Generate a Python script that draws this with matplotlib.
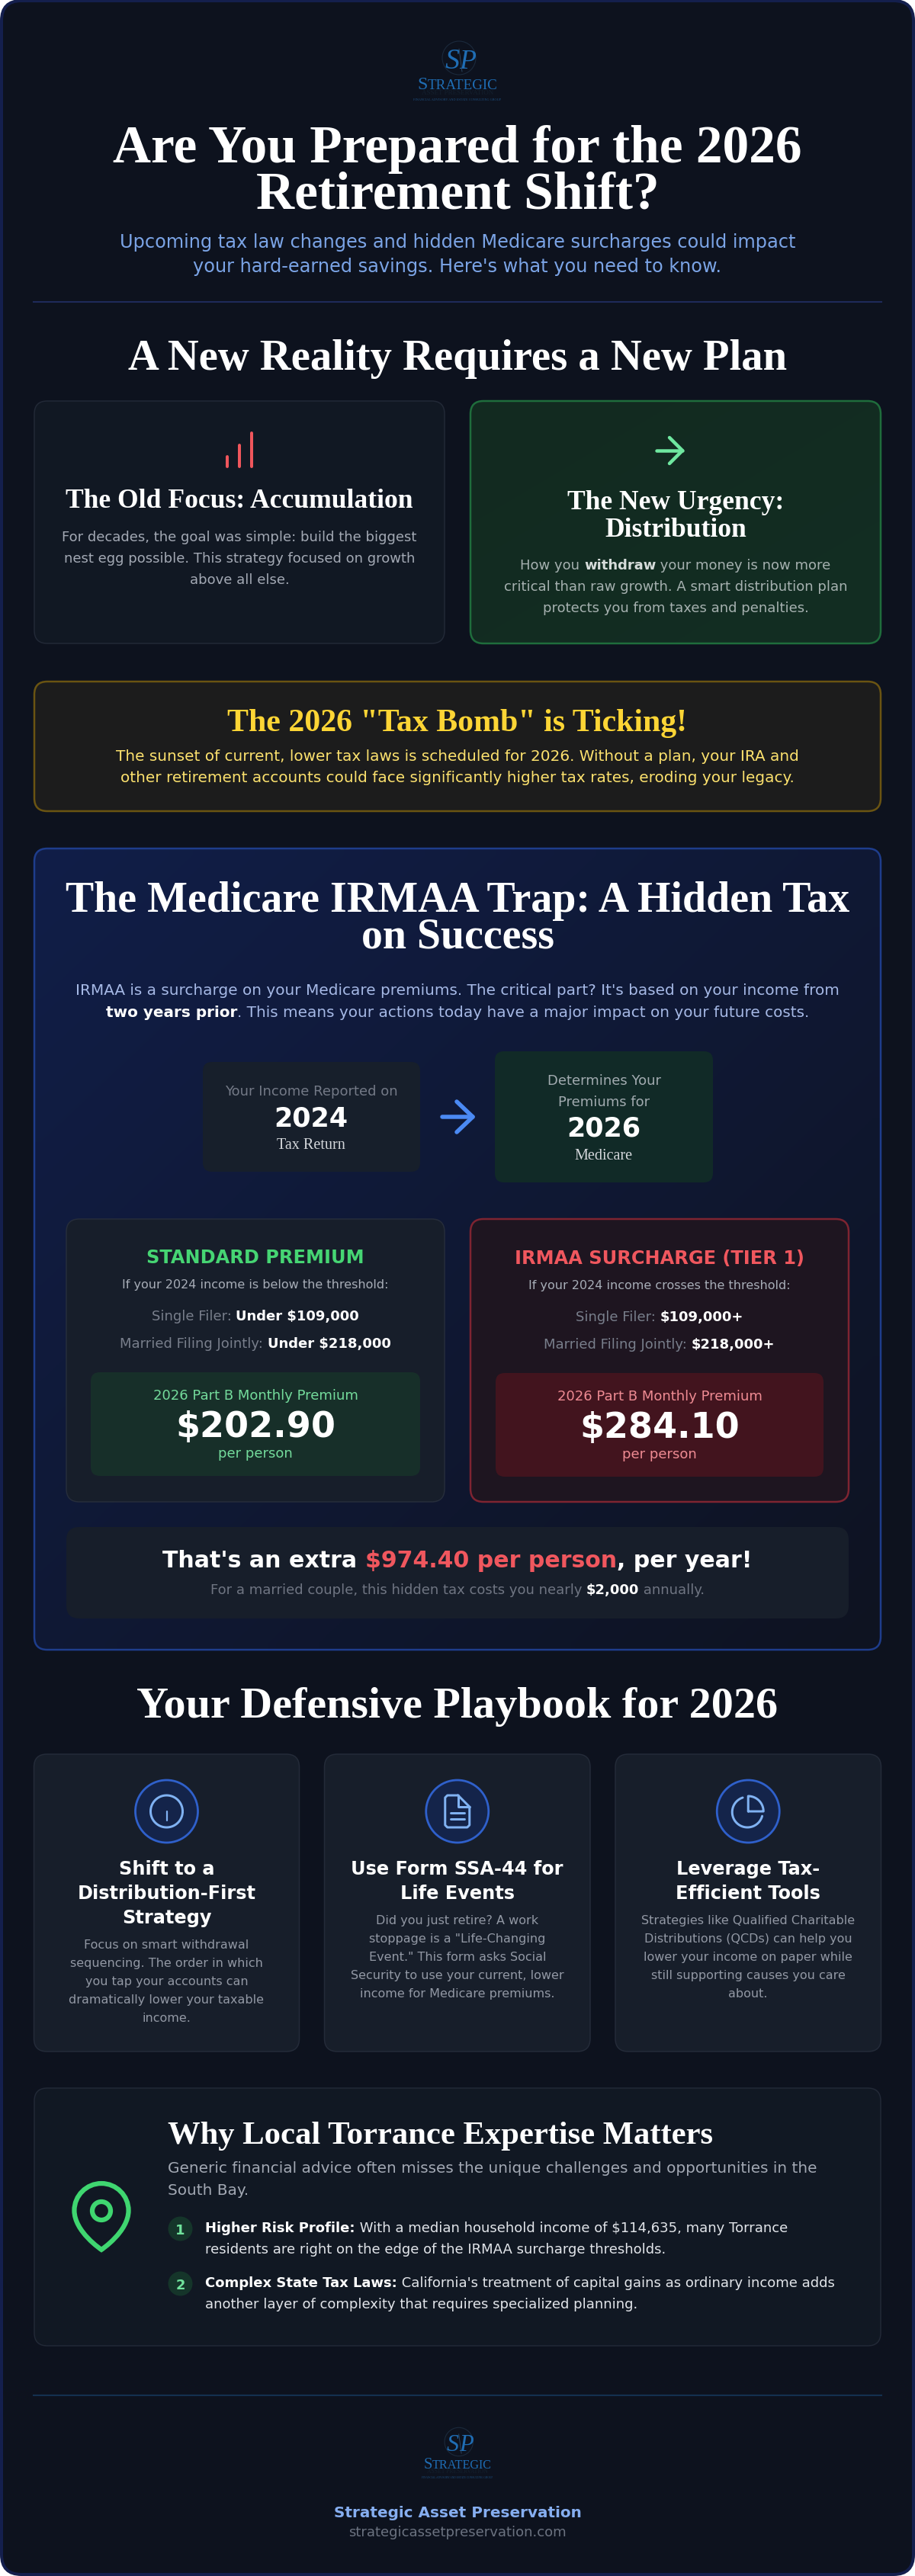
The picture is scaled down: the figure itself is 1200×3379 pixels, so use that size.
import matplotlib
matplotlib.use('Agg')
import matplotlib.pyplot as plt
from matplotlib.patches import FancyBboxPatch, Circle, PathPatch
from matplotlib.path import Path
import numpy as np

SANS = 'DejaVu Sans'
SERIF = 'Liberation Serif'

# texts
title_lines = ['Are You Prepared for the 2026', 'Retirement Shift?']
subtitle_lines = ['Upcoming tax law changes and hidden Medicare surcharges could impact',
                  "your hard-earned savings. Here's what you need to know."]
section_reality = 'A New Reality Requires a New Plan'
old_title = 'The Old Focus: Accumulation'
old_body = ['For decades, the goal was simple: build the biggest',
            'nest egg possible. This strategy focused on growth',
            'above all else.']
new_title = ['The New Urgency:', 'Distribution']
new_body_rest = ['critical than raw growth. A smart distribution plan',
                 'protects you from taxes and penalties.']
bomb_title = 'The 2026 "Tax Bomb" is Ticking!'
bomb_body = ['The sunset of current, lower tax laws is scheduled for 2026. Without a plan, your IRA and',
             'other retirement accounts could face significantly higher tax rates, eroding your legacy.']
irmaa_title = ['The Medicare IRMAA Trap: A Hidden Tax', 'on Success']
irmaa_line1 = "IRMAA is a surcharge on your Medicare premiums. The critical part? It's based on your income from"
irmaa_line2 = '. This means your actions today have a major impact on your future costs.'
flow_left = ['Your Income Reported on', '2024', 'Tax Return']
flow_right = ['Determines Your', 'Premiums for', '2026', 'Medicare']
tier_heads = ['STANDARD PREMIUM', 'IRMAA SURCHARGE (TIER 1)']
tier_subs = ['If your 2024 income is below the threshold:', 'If your 2024 income crosses the threshold:']
single_limits = ['Under $109,000', '$109,000+']
joint_limits = ['Under $218,000', '$218,000+']
premium_label = '2026 Part B Monthly Premium'
premiums = ['$202.90', '$284.10']
per_person = 'per person'
extra_amount = '$974.40 per person'
couple_amount = '$2,000'
section_play = 'Your Defensive Playbook for 2026'
play_titles = [['Shift to a', 'Distribution-First', 'Strategy'],
               ['Use Form SSA-44 for', 'Life Events'],
               ['Leverage Tax-', 'Efficient Tools']]
play_bodies = [['Focus on smart withdrawal', 'sequencing. The order in which', 'you tap your accounts can',
                'dramatically lower your taxable', 'income.'],
               ['Did you just retire? A work', 'stoppage is a "Life-Changing', 'Event." This form asks Social',
                'Security to use your current, lower', 'income for Medicare premiums.'],
               ['Strategies like Qualified Charitable', 'Distributions (QCDs) can help you',
                'lower your income on paper while', 'still supporting causes you care', 'about.']]
local_title = 'Why Local Torrance Expertise Matters'
local_body = ['Generic financial advice often misses the unique challenges and opportunities in the', 'South Bay.']
local_items = [('Higher Risk Profile:', ' With a median household income of $114,635, many Torrance',
                'residents are right on the edge of the IRMAA surcharge thresholds.'),
               ('Complex State Tax Laws:', " California's treatment of capital gains as ordinary income adds",
                'another layer of complexity that requires specialized planning.')]
footer_name = 'Strategic Asset Preservation'
footer_url = 'strategicassetpreservation.com'

PAGE = '#0d121e'
WHITE = '#ffffff'

fig = plt.figure(figsize=(12, 33.8), dpi=100, facecolor='white')
ax = fig.add_axes([0, 0, 1, 1])
ax.set_axis_off()
rend = fig.canvas.get_renderer()
ax.set_xlim(0, 1200)
ax.set_ylim(3380, 0)


def put(x, y, s, size, color, weight='normal', family=SANS, ha='center'):
    # y is the baseline, sizes are in pixels
    return ax.text(x, y, s, fontsize=size * 0.72, color=color, fontweight=weight,
                   family=family, ha=ha, va='baseline', zorder=5)


def mid(x, y, s, size, color, weight='normal', family=SANS, ha='center'):
    # y is the visual middle of a sans line
    return put(x, y + 0.36 * size, s, size, color, weight, family, ha)


def width(s, size, weight, family=SANS):
    a = ax.text(0, 0, s + '|', fontsize=size * 0.72, fontweight=weight, family=family)
    b = ax.text(0, 0, '|', fontsize=size * 0.72, fontweight=weight, family=family)
    w = a.get_window_extent(rend).width - b.get_window_extent(rend).width
    a.remove()
    b.remove()
    return w


def runs(x, y, parts, size, ha='center'):
    # several colours or weights on one line
    total = sum(width(p[0], size, p[2]) for p in parts)
    cur = x - total / 2 if ha == 'center' else x
    for s, color, weight in parts:
        mid(cur, y, s, size, color, weight, ha='left')
        cur += width(s, size, weight)


def box(x0, y0, x1, y1, fill, edge='none', lw=0, r=16, z=2):
    p = FancyBboxPatch((x0, y0), x1 - x0, y1 - y0, boxstyle='round,pad=0,rounding_size=%g' % r,
                       facecolor=fill, edgecolor=edge, linewidth=lw * 0.72, zorder=z)
    ax.add_patch(p)
    return p


def gradient_box(x0, y0, x1, y1, c0, c1, edge, lw, r):
    # diagonal wash, clipped to the rounded card
    p = box(x0, y0, x1, y1, 'none', edge, lw, r, z=3)
    u, v = np.meshgrid(np.linspace(0, 1, 60), np.linspace(0, 1, 60))
    t = ((u + v) / 2)[..., None]
    a = np.array(matplotlib.colors.to_rgb(c0))
    b = np.array(matplotlib.colors.to_rgb(c1))
    im = ax.imshow(a * (1 - t) + b * t, extent=(x0, x1, y1, y0), aspect='auto', zorder=2,
                   interpolation='bilinear')
    im.set_clip_path(p)
    ax.set_xlim(0, 1200)
    ax.set_ylim(3380, 0)


def stroke(xs, ys, color, lw, z=5, join='round'):
    ax.plot(xs, ys, color=color, lw=lw * 0.72, solid_capstyle='round', solid_joinstyle=join, zorder=z)


def arrow(x0, x1, y, head_x, head_h, color, lw):
    stroke([x0, x1], [y, y], color, lw)
    stroke([head_x, x1, head_x], [y - head_h, y, y + head_h], color, lw)


def logo(cx, cy, k):
    # cy is the middle of the SP ring
    blue = '#1f6db4'
    ax.add_patch(Circle((cx + 2 * k, cy), 22 * k, fill=False, edgecolor='#1b2a3c', lw=0.8, zorder=4))
    put(cx - 7 * k, cy + 13 * k, 'S', 38 * k, blue, family=SERIF, ha='center').set_fontstyle('italic')
    put(cx + 13 * k, cy + 13 * k, 'P', 36 * k, blue, family=SERIF, ha='center').set_fontstyle('italic')
    stroke([cx + 6 * k, cx + 2 * k], [cy + 18 * k, cy - 12 * k], '#33506e', 0.8)
    y = cy + 40 * k
    w1 = width('S', 24 * k, 'normal', SERIF)
    w2 = width('TRATEGIC', 19 * k, 'normal', SERIF)
    left = cx - (w1 + w2) / 2
    put(left, y, 'S', 24 * k, blue, family=SERIF, ha='left')
    put(left + w1, y, 'TRATEGIC', 19 * k, blue, family=SERIF, ha='left')
    put(cx, y + 7 * k, 'ASSET PRESERVATION', 9 * k, '#14202e', family=SERIF)
    put(cx, y + 15 * k, 'FINANCIAL ADVISORY AND ESTATE CONSULTING GROUP', 4.2 * k, '#1d4f80', family=SERIF)


# page frame
box(2, 2, 1198, 3378, PAGE, '#141f4d', 4, 26, z=1)

# header
logo(600, 77, 1.0)
for y, s in zip([213, 273], title_lines):
    put(600, y, s, 69.35, WHITE, 'bold', SERIF)
for y, s in zip([316, 348], subtitle_lines):
    mid(600, y, s, 24, '#7ba4e6')
ax.plot([44, 1156], [397, 397], color='#1e2a5a', lw=1.5, zorder=3)

put(600, 485, section_reality, 56.6, WHITE, 'bold', SERIF)

# old focus / new urgency
box(45, 527, 583, 845, '#111823', '#222937', 1.5, 17)
gradient_box(617, 527, 1155, 845, '#122a20', '#132e23', '#1f6d3c', 2.5, 17)
for x, top in zip([298, 314, 330], [600, 585, 569]):
    stroke([x, x], [613, top], '#f0565c', 4)
arrow(861, 895, 592, 878, 17, '#6fe7a0', 4.5)
put(314, 666, old_title, 35.45, WHITE, 'bold', SERIF)
for y, s in zip([704, 732, 760], old_body):
    mid(314, y, s, 18, '#a3a9b4')
for y, s in zip([668, 704], new_title):
    put(886, y, s, 35.45, WHITE, 'bold', SERIF)
runs(886, 741, [('How you ', '#a6b1b0', 'normal'), ('withdraw', '#d6dcda', 'bold'),
                (' your money is now more', '#a6b1b0', 'normal')], 18)
for y, s in zip([769, 797], new_body_rest):
    mid(886, y, s, 18, '#a6b1b0')

# tax bomb
box(45, 895, 1155, 1065, '#1c1c1c', '#6a5412', 2.5, 17)
put(600, 959, bomb_title, 41.87, '#fdd535', 'bold', SERIF)
for y, s in zip([990.5, 1018.5], bomb_body):
    mid(600, y, s, 20, '#fde26e')

# IRMAA panel
gradient_box(45, 1114, 1155, 2165, '#111e48', '#0e1321', '#1e3d8c', 2.5, 17)
for y, s in zip([1196, 1244], irmaa_title):
    put(600, y, s, 55.83, WHITE, 'bold', SERIF)
mid(600, 1298, irmaa_line1, 20, '#a6b9e6')
runs(600, 1327, [('two years prior', WHITE, 'bold'), (irmaa_line2, '#a6b9e6', 'normal')], 20)

box(266, 1394, 551, 1538, '#171f2b', r=12, z=4)
mid(408, 1431, flow_left[0], 18, '#737986')
mid(408, 1465, flow_left[1], 35, WHITE, 'bold')
mid(408, 1500, flow_left[2], 20.2, '#d4d7db', family=SERIF)
arrow(580, 620, 1466, 599, 20, '#4b8af3', 5.5)
box(649, 1380, 935, 1552, '#112a27', r=12, z=4)
mid(792, 1417, flow_right[0], 18, '#a2abb0')
mid(792, 1445, flow_right[1], 18, '#a2abb0')
mid(792, 1478, flow_right[2], 35, WHITE, 'bold')
mid(792, 1514, flow_right[3], 20.2, '#d4d7db', family=SERIF)

# two premium cards
card_x = [(87, 583), (617, 1113)]
inner_x = [(119, 551), (650, 1080)]
card_fill = ['#171e2a', '#1e1520']
card_edge = ['#262d3b', '#7e2431']
head_col = ['#46d573', '#f0575e']
inner_fill = ['#172f29', '#42141e']
label_col = ['#74dc9c', '#ef8b93']
dy = [0, 1]
for i in range(2):
    cx = sum(card_x[i]) / 2
    box(card_x[i][0], 1600, card_x[i][1], 1971, card_fill[i], card_edge[i], 1.5 + i, 17, z=4)
    mid(cx, 1648 + dy[i], tier_heads[i], 24, head_col[i], 'bold')
    mid(cx, 1684 + dy[i], tier_subs[i], 16, '#a7adb7')
    runs(cx, 1726 + dy[i], [('Single Filer: ', '#787e8b', 'normal'), (single_limits[i], WHITE, 'bold')], 18)
    runs(cx, 1762 + dy[i], [('Married Filing Jointly: ', '#787e8b', 'normal'), (joint_limits[i], WHITE, 'bold')], 18)
    box(inner_x[i][0], 1801 + dy[i], inner_x[i][1], 1937 + dy[i], inner_fill[i], r=12, z=4.5)
    mid(cx, 1830 + dy[i], premium_label, 18, label_col[i])
    mid(cx, 1868 + dy[i], premiums[i], 46, WHITE, 'bold')
    mid(cx, 1906 + dy[i], per_person, 18, label_col[i])

box(87, 2004, 1113, 2124, '#171e2a', r=17, z=4)
runs(600, 2045, [("That's an extra ", WHITE, 'bold'), (extra_amount, '#f0575e', 'bold'),
                 (', per year!', WHITE, 'bold')], 30)
runs(600, 2085, [('For a married couple, this hidden tax costs you nearly ', '#6f7582', 'normal'),
                 (couple_amount, WHITE, 'bold'), (' annually.', '#6f7582', 'normal')], 18)

# playbook
put(600, 2253, section_play, 58.17, WHITE, 'bold', SERIF)
play_x = [(44.5, 392.5), (425.5, 774), (807, 1155.5)]
icon_col = '#80b2f2'
for i in range(3):
    cx = sum(play_x[i]) / 2
    box(play_x[i][0], 2302, play_x[i][1], 2692, '#171e2a', '#242b39', 1.5, 17)
    ax.add_patch(Circle((cx, 2377), 41, facecolor='#14244a', edgecolor='#2f60cb', lw=2, zorder=4))
    y = 2450
    for s in play_titles[i]:
        mid(cx, y, s, 24, WHITE, 'bold')
        y += 32.3
    y = y + 3.5
    for s in play_bodies[i]:
        mid(cx, y, s, 16, '#9298a4')
        y += 24

t = np.linspace(0, 2 * np.pi, 100)

# info icon
cx = sum(play_x[0]) / 2
stroke(cx + 21 * np.cos(t), 2377 + 21 * np.sin(t), icon_col, 3)
stroke([cx, cx], [2377, 2389], icon_col, 2.2)
stroke([cx, cx + 0.01], [2369, 2369], icon_col, 2.2)

# file icon
cx = sum(play_x[1]) / 2
stroke([cx + 1, cx - 13, cx - 16, cx - 16, cx - 13, cx + 13, cx + 16, cx + 16, cx + 1],
       [2356, 2356, 2359, 2395, 2398, 2398, 2395, 2371, 2356], icon_col, 3)
stroke([cx + 1, cx + 1, cx + 16], [2356, 2371, 2371], icon_col, 3)
stroke([cx - 9, cx + 9], [2379, 2379], icon_col, 3)
stroke([cx - 9, cx + 9], [2387, 2387], icon_col, 3)

# pie icon
cx = sum(play_x[2]) / 2 - 1
a = np.radians(np.linspace(108, 345, 60))
stroke(cx + 20 * np.cos(a), 2378 - 20 * np.sin(a), icon_col, 3)
a = np.radians(np.linspace(90, 0, 30))
stroke(np.r_[cx + 1, cx + 1 + 20 * np.cos(a), cx + 1], np.r_[2377, 2377 - 20 * np.sin(a), 2377], icon_col, 3)

# local expertise
box(45, 2740, 1155, 3078, '#111823', '#222937', 1.5, 17)
verts = [(21, 10), (21, 17), (12, 23), (12, 23), (12, 23), (3, 17), (3, 10),
         (3, 5.03), (7.03, 1), (12, 1), (16.97, 1), (21, 5.03), (21, 10), (21, 10)]
codes = [Path.MOVETO] + [Path.CURVE4] * 12 + [Path.CLOSEPOLY]
pin = np.array(verts, dtype=float)
pin = (pin - 12) * 3.95 + [133, 2908.5]
ax.add_patch(PathPatch(Path(pin, codes), fill=False, edgecolor='#3fd670', lw=4.5, zorder=5))
ax.add_patch(Circle((133, 2901), 12, fill=False, edgecolor='#3fd670', lw=4.5, zorder=5))
put(220, 2812, local_title, 42.61, WHITE, 'bold', SERIF, ha='left')
for y, s in zip([2843, 2871.5], local_body):
    mid(220, y, s, 20, '#a3a9b4', ha='left')
for i, (y, item) in enumerate(zip([2922, 2994], local_items)):
    ax.add_patch(Circle((236.5, y + 2.5), 16, facecolor='#15352a', edgecolor='none', zorder=4))
    mid(236.5, y + 2.5, str(i + 1), 18, '#70e29c', 'bold')
    runs(269, y, [(item[0], WHITE, 'bold'), (item[1], '#e2e5ea', 'normal')], 18, ha='left')
    mid(269, y + 28, item[2], 18, '#e2e5ea', ha='left')

# footer
ax.plot([44, 1156], [3142.5, 3142.5], color='#14304f', lw=1.5, zorder=3)
logo(600, 3204, 0.85)
mid(600, 3294.5, footer_name, 20, '#86aef0', 'bold')
mid(600, 3321, footer_url, 18, '#6b7280')

fig.savefig('out.png', dpi=100, facecolor='white')
